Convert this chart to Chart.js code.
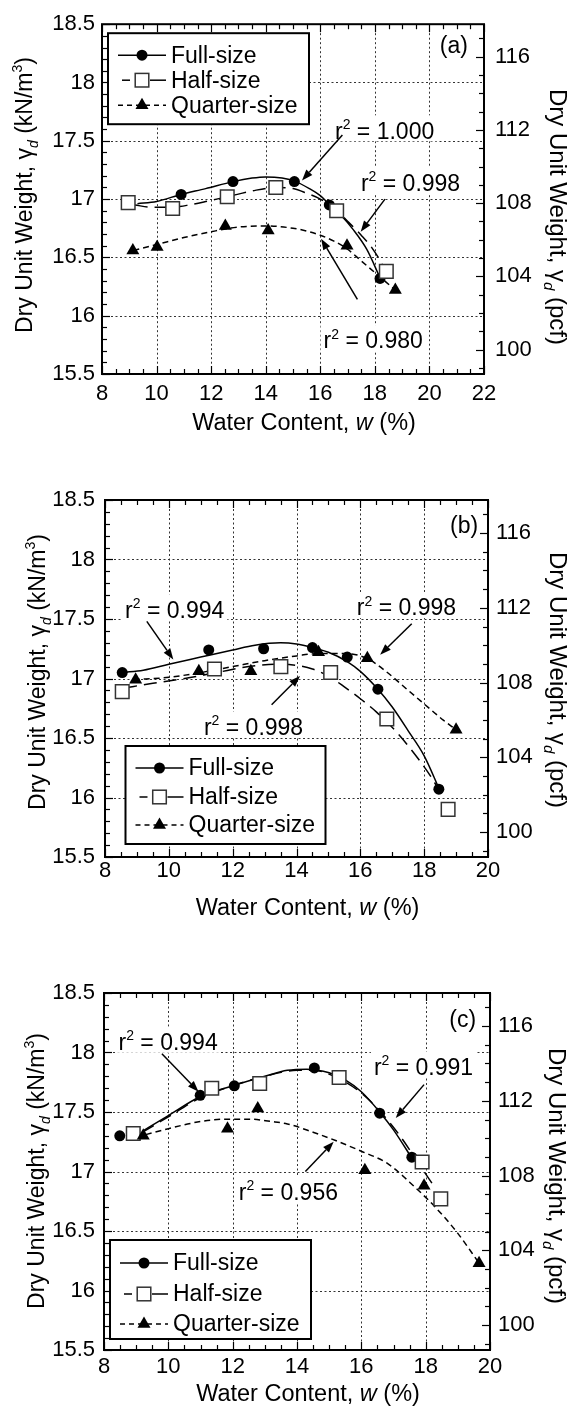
<!DOCTYPE html>
<html>
<head>
<meta charset="utf-8">
<script src="https://cdn.jsdelivr.net/npm/chart.js@4.4.1/dist/chart.umd.min.js"></script>
<style>
html,body{margin:0;padding:0;background:#fff;}
body{width:569px;height:1407px;position:relative;overflow:hidden;}
canvas{position:absolute;left:0;}
</style>
</head>
<body>
<canvas id="cA" width="569" height="460" style="top:0px"></canvas>
<canvas id="cB" width="569" height="470" style="top:460px"></canvas>
<canvas id="cC" width="569" height="477" style="top:930px"></canvas>
<script>
// ---------------- tick values ----------------
const yTicksKN = [15.5, 16, 16.5, 17, 17.5, 18, 18.5];
const pcfTicks = [100, 104, 108, 112, 116];
const xTicksA = [8, 10, 12, 14, 16, 18, 20, 22];
const xTicksBC = [8, 10, 12, 14, 16, 18, 20];
const seriesNames = ['Full-size', 'Half-size', 'Quarter-size'];
const KN_PER_PCF = 0.157087;

// ---------------- panel (a) ----------------
const fullA_w = [10.9, 12.8, 15.05, 16.33, 18.19];
const fullA_g = [17.04, 17.15, 17.15, 16.95, 16.32];
const halfA_w = [8.96, 10.59, 12.59, 14.37, 16.6, 18.42];
const halfA_g = [16.97, 16.92, 17.02, 17.10, 16.90, 16.38];
const quarterA_w = [9.13, 10.02, 12.52, 14.09, 16.98, 18.75];
const quarterA_g = [16.56, 16.59, 16.77, 16.73, 16.60, 16.22];
const fitFullA_w = [9.3, 10.0, 10.9, 11.8, 12.8, 13.5, 14.0, 14.6, 15.1, 15.6, 16.0, 16.35, 16.8, 17.2, 17.7, 18.2];
const fitFullA_g = [16.96, 16.98, 17.04, 17.09, 17.15, 17.18, 17.19, 17.18, 17.15, 17.09, 17.03, 16.95, 16.85, 16.74, 16.57, 16.32];
const fitHalfA_w = [9.2, 9.8, 10.5, 11.2, 12.0, 12.6, 13.5, 14.4, 15.0, 15.5, 16.0, 16.6, 17.0, 17.5, 17.9, 18.2, 18.4];
const fitHalfA_g = [16.95, 16.93, 16.93, 16.95, 16.99, 17.02, 17.07, 17.10, 17.09, 17.05, 17.0, 16.9, 16.81, 16.69, 16.58, 16.47, 16.38];
const fitQuarterA_w = [9.15, 10, 11, 12, 13, 14, 15, 15.6, 16, 16.5, 17, 17.5, 18, 18.4, 18.75];
const fitQuarterA_g = [16.56, 16.61, 16.67, 16.72, 16.76, 16.77, 16.75, 16.72, 16.69, 16.64, 16.57, 16.47, 16.37, 16.29, 16.22];

// ---------------- panel (b) ----------------
const fullB_w = [8.54, 11.25, 12.97, 14.5, 15.59, 16.55, 18.46];
const fullB_g = [17.05, 17.24, 17.25, 17.26, 17.18, 16.91, 16.07];
const halfB_w = [8.54, 11.43, 13.51, 15.07, 16.83, 18.75];
const halfB_g = [16.89, 17.08, 17.10, 17.05, 16.66, 15.90];
const quarterB_w = [8.96, 10.94, 12.57, 14.69, 16.22, 19.0];
const quarterB_g = [16.99, 17.06, 17.06, 17.22, 17.17, 16.57];
const fitFullB_w = [8.55, 9.2, 10, 11, 12, 12.7, 13.5, 14.0, 14.5, 15.0, 15.6, 16.0, 16.55, 17.0, 17.5, 18.0, 18.46];
const fitFullB_g = [17.05, 17.07, 17.12, 17.18, 17.24, 17.28, 17.30, 17.29, 17.26, 17.22, 17.14, 17.06, 16.91, 16.76, 16.56, 16.35, 16.08];
const fitHalfB_w = [8.6, 9.5, 10.5, 11.5, 12.5, 13.3, 14.0, 14.5, 15.0, 15.5, 16.0, 16.5, 17.1, 17.6, 18.2, 18.6];
const fitHalfB_g = [16.92, 16.96, 17.0, 17.05, 17.1, 17.12, 17.11, 17.08, 17.02, 16.93, 16.83, 16.72, 16.56, 16.40, 16.18, 16.0];
const fitQuarterB_w = [8.9, 10, 11, 12, 13, 14, 14.7, 15.5, 16.2, 16.8, 17.5, 18.2, 18.6, 19.0];
const fitQuarterB_g = [16.99, 17.01, 17.05, 17.1, 17.15, 17.19, 17.21, 17.21, 17.17, 17.06, 16.9, 16.74, 16.65, 16.57];

// ---------------- panel (c) ----------------
const fullC_w = [8.49, 10.99, 12.05, 14.54, 16.57, 17.57];
const fullC_g = [17.30, 17.64, 17.72, 17.87, 17.49, 17.12];
const halfC_w = [8.91, 11.35, 12.84, 15.31, 17.89, 18.47];
const halfC_g = [17.32, 17.70, 17.74, 17.79, 17.08, 16.77];
const quarterC_w = [9.22, 11.84, 12.78, 16.11, 17.95, 19.66];
const quarterC_g = [17.30, 17.36, 17.53, 17.01, 16.88, 16.23];
const fitFullC_w = [9.2, 10, 11, 12, 13, 13.7, 14.3, 15, 15.5, 16, 16.6, 17, 17.6];
const fitFullC_g = [17.34, 17.47, 17.63, 17.72, 17.8, 17.85, 17.86, 17.83, 17.77, 17.67, 17.49, 17.35, 17.1];
const fitHalfC_w = [9.2, 10, 11, 12, 13, 14, 14.5, 15.3, 16, 16.6, 17.2, 17.8, 18.3];
const fitHalfC_g = [17.33, 17.46, 17.62, 17.72, 17.8, 17.85, 17.85, 17.78, 17.66, 17.5, 17.3, 17.06, 16.86];
const fitQuarterC_w = [9.3, 10, 11, 11.8, 12.5, 13.2, 13.7, 14.5, 15.2, 16, 16.8, 17.66, 18.3, 19, 19.66];
const fitQuarterC_g = [17.31, 17.36, 17.42, 17.44, 17.44, 17.42, 17.4, 17.33, 17.26, 17.17, 17.07, 16.87, 16.7, 16.48, 16.23];

// ---------------- annotations (r^2 values, in data coordinates) ----------------
const notesA = [
  {r: '1.000', w: 16.54, g: 17.59, tail: [16.81, 17.55], head: [15.33, 17.16]},
  {r: '0.998', w: 17.49, g: 17.14, tail: [18.37, 17.00], head: [17.48, 16.72]},
  {r: '0.980', w: 16.12, g: 15.79, tail: [17.36, 16.14], head: [16.03, 16.66]}
];
const notesB = [
  {r: '0.994', w: 8.63, g: 17.58, tail: [9.31, 17.48], head: [10.14, 17.16]},
  {r: '0.998', w: 15.89, g: 17.60, tail: [17.61, 17.46], head: [16.62, 17.20]},
  {r: '0.998', w: 11.10, g: 16.595, tail: [13.22, 16.78], head: [14.11, 17.02]}
];
const notesC = [
  {r: '0.994', w: 8.45, g: 18.09, tail: [9.80, 17.99], head: [10.94, 17.67]},
  {r: '0.991', w: 16.39, g: 17.88, tail: [17.95, 17.73], head: [17.07, 17.45]},
  {r: '0.956', w: 12.19, g: 16.83, tail: [14.26, 17.00], head: [15.14, 17.25]}
];

// ---------------- styles ----------------
const FONT = '"Liberation Sans", Arial, Helvetica, sans-serif';
const TICK_SIZE = 22, NOTE_SIZE = 23, LEG_SIZE = 23;
const R_CIRCLE = 5.5, R_RECT = 9.6, R_TRI = 7.5;
const DASH_HALF = [13, 7], DASH_QUARTER = [6, 4];

function pts(w, g) { return w.map((x, i) => ({x: x, y: g[i]})); }

function segFont(s, size) {
  const sz = (s.sub || s.sup) ? Math.round(size * 0.62) : size;
  return (s.it ? 'italic ' : '') + sz + 'px ' + FONT;
}
function richWidth(ctx, segs, size) {
  let w = 0;
  for (const s of segs) { ctx.font = segFont(s, size); w += ctx.measureText(s.t).width; }
  return w;
}
function drawRich(ctx, segs, x, y, size) {
  ctx.textAlign = 'left'; ctx.textBaseline = 'alphabetic';
  let cx = x;
  for (const s of segs) {
    ctx.font = segFont(s, size);
    const dy = s.sub ? size * 0.25 : (s.sup ? -size * 0.42 : 0);
    ctx.fillText(s.t, cx, y + dy);
    cx += ctx.measureText(s.t).width;
  }
  return cx - x;
}
function drawRichCentered(ctx, segs, size, cx, cy, rot) {
  ctx.save();
  ctx.translate(cx, cy);
  ctx.rotate(rot);
  const w = richWidth(ctx, segs, size);
  ctx.fillStyle = '#000';
  drawRich(ctx, segs, -w / 2, size * 0.35, size);
  ctx.restore();
}
function rSegs(val) { return [{t: 'r'}, {t: '2', sup: true}, {t: ' = ' + val}]; }
function seg(ctx, x1, y1, x2, y2) { ctx.beginPath(); ctx.moveTo(x1, y1); ctx.lineTo(x2, y2); ctx.stroke(); }
function arrow(ctx, x1, y1, x2, y2) {
  const ang = Math.atan2(y2 - y1, x2 - x1), L = 11, W = 4;
  const bx = x2 - L * Math.cos(ang), by = y2 - L * Math.sin(ang);
  seg(ctx, x1, y1, bx, by);
  ctx.beginPath();
  ctx.moveTo(x2, y2);
  ctx.lineTo(bx + W * Math.sin(ang), by - W * Math.cos(ang));
  ctx.lineTo(bx - W * Math.sin(ang), by + W * Math.cos(ang));
  ctx.closePath(); ctx.fill();
}
function marker(ctx, style, x, y) {
  ctx.save();
  ctx.setLineDash([]);
  if (style === 'circle') {
    ctx.beginPath(); ctx.arc(x, y, R_CIRCLE, 0, Math.PI * 2);
    ctx.fillStyle = '#000'; ctx.fill();
  } else if (style === 'rect') {
    const s = R_RECT * Math.SQRT1_2;
    ctx.fillStyle = '#fff'; ctx.fillRect(x - s, y - s, 2 * s, 2 * s);
    ctx.strokeStyle = '#333'; ctx.lineWidth = 1.5; ctx.strokeRect(x - s, y - s, 2 * s, 2 * s);
  } else {
    ctx.beginPath();
    for (let k = 0; k < 3; k++) {
      const a = -Math.PI / 2 + k * 2 * Math.PI / 3;
      const px = x + R_TRI * Math.cos(a), py = y + R_TRI * Math.sin(a);
      if (k === 0) ctx.moveTo(px, py); else ctx.lineTo(px, py);
    }
    ctx.closePath(); ctx.fillStyle = '#000'; ctx.fill();
  }
  ctx.restore();
}

function deco(p) {
  return {
    id: 'deco',
    beforeDatasetsDraw(chart) {
      const ctx = chart.ctx, a = chart.chartArea, X = chart.scales.x, Y = chart.scales.y;
      ctx.save();
      ctx.strokeStyle = '#333'; ctx.lineWidth = 1; ctx.setLineDash([2, 2.5]);
      for (const v of p.xTicks.slice(1, -1)) {
        const px = Math.round(X.getPixelForValue(v)) + 0.5;
        seg(ctx, px, a.top, px, a.bottom);
      }
      for (const v of yTicksKN.slice(1, -1)) {
        const py = Math.round(Y.getPixelForValue(v)) + 0.5;
        seg(ctx, a.left, py, a.right, py);
      }
      ctx.setLineDash([]);
      for (const n of p.notes) {
        const segs = rSegs(n.r);
        const x = X.getPixelForValue(n.w), cy = Y.getPixelForValue(n.g);
        const w = richWidth(ctx, segs, NOTE_SIZE);
        ctx.fillStyle = '#fff'; ctx.fillRect(x - 3, cy - 15, w + 6, 26);
        ctx.fillStyle = '#000'; drawRich(ctx, segs, x, cy + 8.2, NOTE_SIZE);
      }
      ctx.restore();
    },
    afterDatasetsDraw(chart) {
      const ctx = chart.ctx, a = chart.chartArea, X = chart.scales.x, Y = chart.scales.y, Y2 = chart.scales.y2;
      ctx.save();
      // arrows
      ctx.strokeStyle = '#000'; ctx.fillStyle = '#000'; ctx.lineWidth = 1.5;
      for (const n of p.notes) {
        arrow(ctx, X.getPixelForValue(n.tail[0]), Y.getPixelForValue(n.tail[1]),
                   X.getPixelForValue(n.head[0]), Y.getPixelForValue(n.head[1]));
      }
      // frame
      ctx.lineWidth = 2;
      ctx.strokeRect(a.left, a.top, a.right - a.left, a.bottom - a.top);
      // ticks
      ctx.lineWidth = 1.2;
      const xMin = p.xTicks[0], xMax = p.xTicks[p.xTicks.length - 1];
      for (let i = 0; ; i++) {
        const v = xMin + i * 0.5; if (v > xMax + 1e-9) break;
        const major = p.xTicks.some(t => Math.abs(t - v) < 1e-9);
        const L = major ? 8 : 5, px = Math.round(X.getPixelForValue(v)) + 0.5;
        seg(ctx, px, a.bottom, px, a.bottom - L);
        seg(ctx, px, a.top, px, a.top + L);
      }
      for (let i = 0; ; i++) {
        const v = 15.5 + i * 0.1; if (v > 18.5 + 1e-9) break;
        const major = yTicksKN.some(t => Math.abs(t - v) < 1e-6);
        const L = major ? 8 : 5, py = Math.round(Y.getPixelForValue(v)) + 0.5;
        seg(ctx, a.left, py, a.left + L, py);
      }
      for (let v = Math.ceil(Y2.min); v <= Math.floor(Y2.max); v++) {
        const major = pcfTicks.includes(v);
        const L = major ? 8 : 5, py = Math.round(Y2.getPixelForValue(v)) + 0.5;
        seg(ctx, a.right, py, a.right - L, py);
      }
      // legend
      const lg = p.legend, lx = a.left + lg.dx, ly = a.top + lg.dy;
      ctx.fillStyle = '#fff'; ctx.fillRect(lx, ly, lg.w, lg.h);
      ctx.strokeStyle = '#000'; ctx.lineWidth = 2; ctx.strokeRect(lx, ly, lg.w, lg.h);
      const mx = lx + 34, x0 = lx + 10, x1 = lx + 58, tx = lx + 63;
      ctx.lineWidth = 1.5;
      let ry = ly + lg.rows[0];
      seg(ctx, x0, ry, x1, ry); marker(ctx, 'circle', mx, ry);
      ry = ly + lg.rows[1];
      seg(ctx, mx - 20, ry, mx - 12, ry); seg(ctx, mx + 8, ry, mx + 24, ry); marker(ctx, 'rect', mx, ry);
      ry = ly + lg.rows[2];
      ctx.setLineDash([5, 4]); seg(ctx, x0, ry, x1, ry); ctx.setLineDash([]); marker(ctx, 'triangle', mx, ry);
      ctx.fillStyle = '#000'; ctx.font = LEG_SIZE + 'px ' + FONT; ctx.textAlign = 'left'; ctx.textBaseline = 'middle';
      seriesNames.forEach((nm, i) => ctx.fillText(nm, tx, ly + lg.rows[i] + 1));
      // panel tag
      ctx.font = NOTE_SIZE + 'px ' + FONT; ctx.textAlign = 'right'; ctx.textBaseline = 'middle';
      ctx.fillText(p.tag.text, X.getPixelForValue(p.tag.w), Y.getPixelForValue(p.tag.g));
      ctx.restore();
      // axis titles
      const cxMid = (a.left + a.right) / 2;
      drawRichCentered(ctx, [{t: 'Water Content, '}, {t: 'w', it: true}, {t: ' (%)'}], 23.5,
        cxMid + 11, a.bottom + p.xTitleDy, 0);
      drawRichCentered(ctx, [{t: 'Dry Unit Weight, '}, {t: 'γ'}, {t: 'd', it: true, sub: true}, {t: ' (kN/m'}, {t: '3', sup: true}, {t: ')'}], 23,
        p.yTitleX, p.yTitleY, -Math.PI / 2);
      drawRichCentered(ctx, [{t: 'Dry Unit Weight, '}, {t: 'γ'}, {t: 'd', it: true, sub: true}, {t: ' (pcf)'}], 24,
        p.y2TitleX, p.y2TitleY, Math.PI / 2);
    }
  };
}

function buildChart(p) {
  const el = document.getElementById(p.id);
  const lineDs = (w, g, dash, order) => ({
    data: pts(w, g), showLine: true, borderColor: '#000', backgroundColor: '#000', borderWidth: 1.5,
    borderDash: dash, pointRadius: 0, tension: 0.4, cubicInterpolationMode: 'monotone', order: order,
    xAxisID: 'x', yAxisID: 'y'
  });
  const ptDs = (w, g, style, r, bg, bc, bw, order) => ({
    data: pts(w, g), showLine: false, pointStyle: style, pointRadius: r,
    pointBackgroundColor: bg, pointBorderColor: bc, pointBorderWidth: bw, order: order,
    xAxisID: 'x', yAxisID: 'y'
  });
  const datasets = [
    lineDs(p.fitFull[0], p.fitFull[1], [], 10),
    lineDs(p.fitHalf[0], p.fitHalf[1], DASH_HALF, 11),
    lineDs(p.fitQuarter[0], p.fitQuarter[1], DASH_QUARTER, 12),
    ptDs(p.full[0], p.full[1], 'circle', R_CIRCLE, '#000', '#000', 0, 3),
    ptDs(p.half[0], p.half[1], 'rect', R_RECT, '#fff', '#333', 1.5, 2),
    ptDs(p.quarter[0], p.quarter[1], 'triangle', R_TRI, '#000', '#000', 0, 1)
  ];
  const tickFont = {family: FONT, size: TICK_SIZE};
  new Chart(el, {
    type: 'scatter',
    data: {datasets: datasets},
    options: {
      responsive: false, animation: false, devicePixelRatio: 1, events: [],
      layout: {padding: {top: p.top, left: 0, right: 0, bottom: 0}},
      plugins: {legend: {display: false}, tooltip: {enabled: false}, title: {display: false}},
      scales: {
        x: {
          type: 'linear', position: 'bottom', min: p.xTicks[0], max: p.xTicks[p.xTicks.length - 1],
          grid: {display: false, drawTicks: false}, border: {display: false},
          ticks: {font: tickFont, color: '#000', padding: p.xPad, maxRotation: 0, autoSkip: false, callback: v => String(v)},
          afterBuildTicks: s => { s.ticks = p.xTicks.map(v => ({value: v})); },
          afterFit: s => { s.height = p.xAxisH; }
        },
        y: {
          type: 'linear', position: 'left', min: yTicksKN[0], max: yTicksKN[yTicksKN.length - 1],
          grid: {display: false, drawTicks: false}, border: {display: false},
          ticks: {font: tickFont, color: '#000', padding: p.yPad, autoSkip: false, callback: v => String(v)},
          afterBuildTicks: s => { s.ticks = yTicksKN.map(v => ({value: v})); },
          afterFit: s => { s.width = p.leftW; }
        },
        y2: {
          type: 'linear', position: 'right',
          min: yTicksKN[0] / KN_PER_PCF, max: yTicksKN[yTicksKN.length - 1] / KN_PER_PCF,
          grid: {display: false, drawTicks: false}, border: {display: false},
          ticks: {font: tickFont, color: '#000', padding: p.y2Pad, autoSkip: false, callback: v => String(v)},
          afterBuildTicks: s => { s.ticks = pcfTicks.map(v => ({value: v})); },
          afterFit: s => { s.width = p.rightW; }
        }
      }
    },
    plugins: [deco(p)]
  });
}

const panels = [
  {
    id: 'cA', top: 19, xAxisH: 86, leftW: 102, rightW: 85, xPad: 7, yPad: 7, y2Pad: 11,
    xTicks: xTicksA,
    full: [fullA_w, fullA_g], half: [halfA_w, halfA_g], quarter: [quarterA_w, quarterA_g],
    fitFull: [fitFullA_w, fitFullA_g], fitHalf: [fitHalfA_w, fitHalfA_g], fitQuarter: [fitQuarterA_w, fitQuarterA_g],
    notes: notesA, tag: {text: '(a)', w: 21.41, g: 18.31},
    legend: {dx: 6, dy: 9, w: 201, h: 91, rows: [22, 47, 72]},
    xTitleDy: 48, yTitleX: 24, yTitleY: 195, y2TitleX: 558, y2TitleY: 217
  },
  {
    id: 'cB', top: 40, xAxisH: 73, leftW: 105, rightW: 81, xPad: 1, yPad: 10, y2Pad: 8,
    xTicks: xTicksBC,
    full: [fullB_w, fullB_g], half: [halfB_w, halfB_g], quarter: [quarterB_w, quarterB_g],
    fitFull: [fitFullB_w, fitFullB_g], fitHalf: [fitHalfB_w, fitHalfB_g], fitQuarter: [fitQuarterB_w, fitQuarterB_g],
    notes: notesB, tag: {text: '(b)', w: 19.69, g: 18.28},
    legend: {dx: 20.5, dy: 246, w: 200, h: 98, rows: [22, 51, 79]},
    xTitleDy: 50, yTitleX: 37, yTitleY: 212, y2TitleX: 558, y2TitleY: 220
  },
  {
    id: 'cC', top: 63, xAxisH: 57, leftW: 104, rightW: 79, xPad: 4, yPad: 9, y2Pad: 8,
    xTicks: xTicksBC,
    full: [fullC_w, fullC_g], half: [halfC_w, halfC_g], quarter: [quarterC_w, quarterC_g],
    fitFull: [fitFullC_w, fitFullC_g], fitHalf: [fitHalfC_w, fitHalfC_g], fitQuarter: [fitQuarterC_w, fitQuarterC_g],
    notes: notesC, tag: {text: '(c)', w: 19.57, g: 18.27},
    legend: {dx: 6, dy: 247, w: 201, h: 99, rows: [23, 54, 84]},
    xTitleDy: 43, yTitleX: 36, yTitleY: 241, y2TitleX: 557, y2TitleY: 246
  }
];
panels.forEach(buildChart);
</script>
</body>
</html>
